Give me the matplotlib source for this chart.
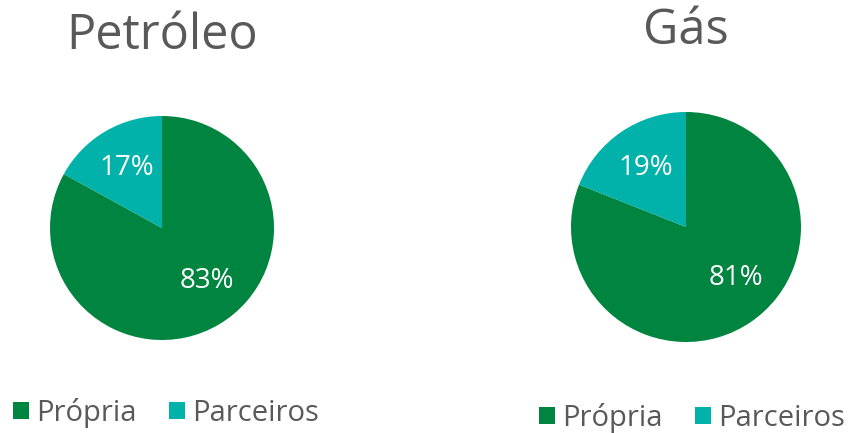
import matplotlib
matplotlib.use("Agg")
import numpy as np
import matplotlib.pyplot as plt
from matplotlib.patches import Patch

plt.rcParams['font.family'] = ['Open Sans', 'DejaVu Sans']

titles = ["Petróleo", "Gás"]
categories = ["Própria", "Parceiros"]
petroleo = [83, 17]
gas = [81, 19]
colors = ["#008540", "#00B2A9"]
grey = "#595959"

W, H = 854, 433
fig = plt.figure(figsize=(W / 100, H / 100), dpi=100)

def draw(values, title, cx, cy, r, ty, leg_xy):
    ax = fig.add_axes([(cx - r) / W, 1 - (cy + r) / H, 2 * r / W, 2 * r / H])
    wedges, _, autotexts = ax.pie(values, colors=colors, startangle=90, counterclock=False,
                                  autopct=lambda p: f"{p:.0f}%", pctdistance=0.62,
                                  textprops=dict(color="white", fontsize=20),
                                  wedgeprops=dict(linewidth=0))
    # big slice label sits a bit nearer the horizontal than the slice middle
    w = wedges[0]
    ang = np.deg2rad((w.theta1 + w.theta2) / 2 + 10)
    autotexts[0].set_position((0.62 * np.cos(ang), 0.62 * np.sin(ang)))
    ax.set_xlim(-1, 1)
    ax.set_ylim(-1, 1)
    ax.set_aspect("equal")
    fig.text(cx / W, 1 - ty / H, title, ha="center", va="center",
             fontsize=35, color=grey)
    handles = [Patch(facecolor=c, edgecolor="none") for c in colors]
    fig.legend(handles, categories, loc="center", bbox_to_anchor=leg_xy,
               ncol=2, frameon=False, fontsize=21, handlelength=0.55,
               handleheight=0.55, handletextpad=0.25, columnspacing=1.1,
               labelcolor=grey)

draw(petroleo, titles[0], 162, 228, 112, 36, (166 / W, 1 - 413 / H))
draw(gas, titles[1], 686, 227, 115, 31, (692 / W, 1 - 418 / H))

fig.savefig("out.png", dpi=100)
